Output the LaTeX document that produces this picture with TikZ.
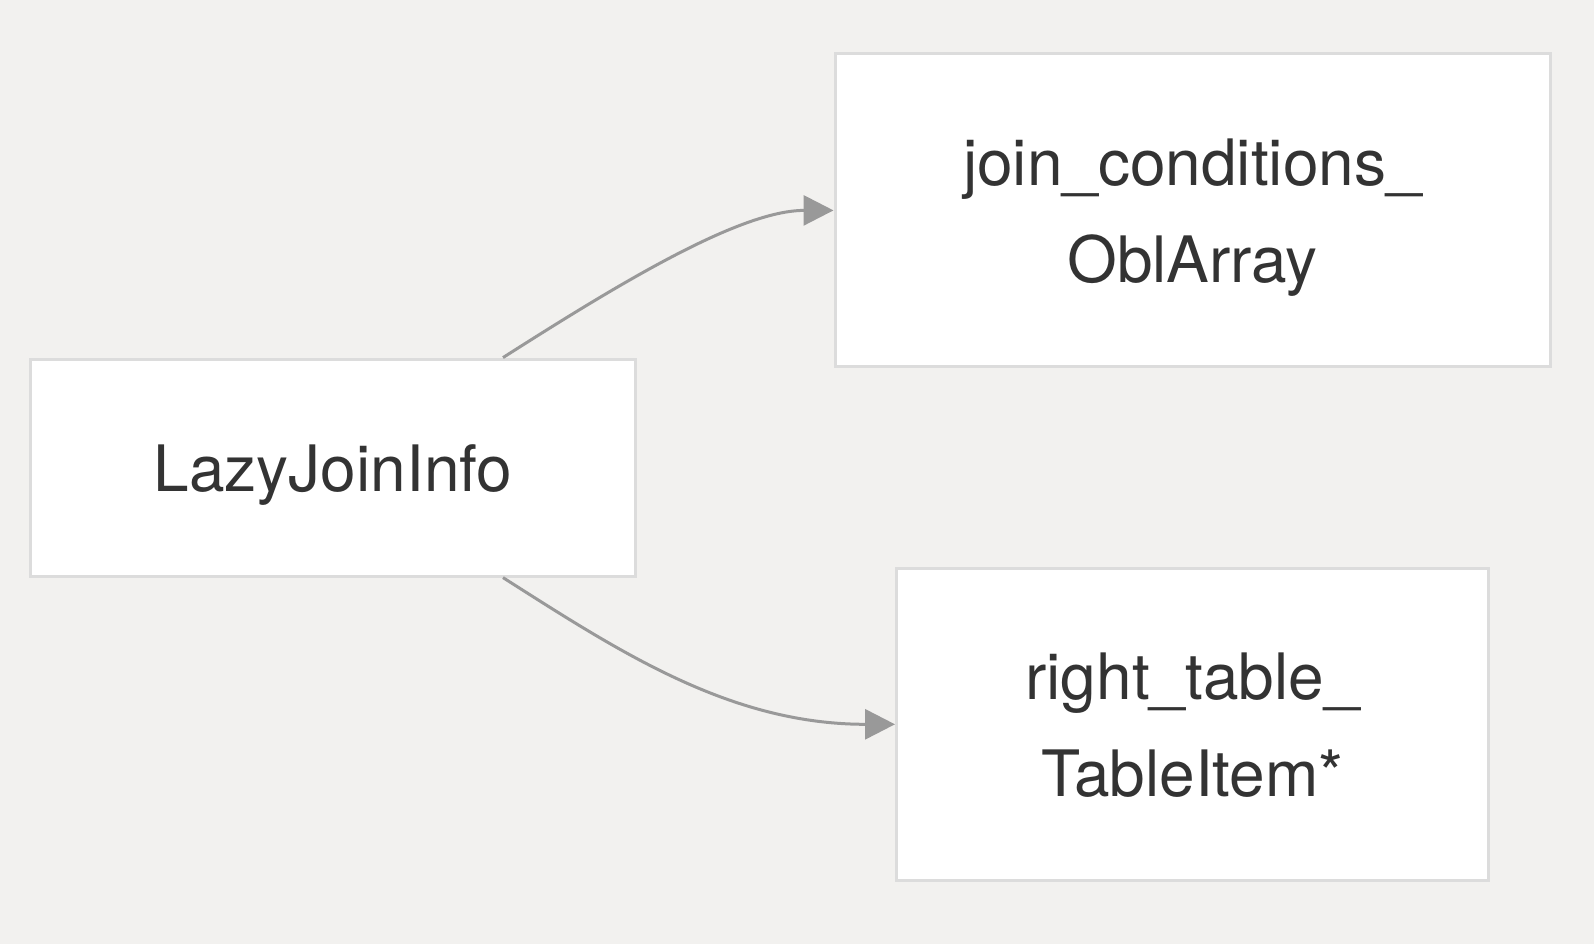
\documentclass[tikz,border=0pt]{standalone}
\usepackage{fontspec}
\setmainfont{TeX Gyre Heros}
\usetikzlibrary{arrows.meta}
\definecolor{bgc}{HTML}{F2F1EF}
\definecolor{boxborder}{HTML}{DCDCDC}
\definecolor{linec}{HTML}{999999}
\definecolor{txt}{HTML}{333333}
\begin{document}
\begin{tikzpicture}[x=1pt,y=-1pt,
  box/.style={draw=boxborder,line width=3pt,fill=white,inner sep=0pt,
    text=txt,align=center,text depth=0pt,font=\fontsize{64}{97}\selectfont},
  conn/.style={draw=linec,line width=3pt,-{Triangle[length=30pt,width=30pt]}}]
\fill[bgc] (0,0) rectangle (1594,944);
\useasboundingbox (0,0) rectangle (1594,944);
\node[box,minimum width=605pt,minimum height=217pt] (lazy) at (333,467.6) {LazyJoinInfo};
\node[box,minimum width=715pt,minimum height=313pt] (join) at (1192.5,210.4) {join\_conditions\_\\OblArray};
\node[box,minimum width=592pt,minimum height=312pt] (right) at (1192.5,724.3) {right\_table\_\\TableItem*};
\draw[conn] ([xshift=170pt]lazy.north) .. controls (620,283) and (740,210.4) .. (join.west);
\draw[conn] ([xshift=170pt]lazy.south) .. controls (620,652) and (730,724.3) .. (right.west);
\end{tikzpicture}
\end{document}
